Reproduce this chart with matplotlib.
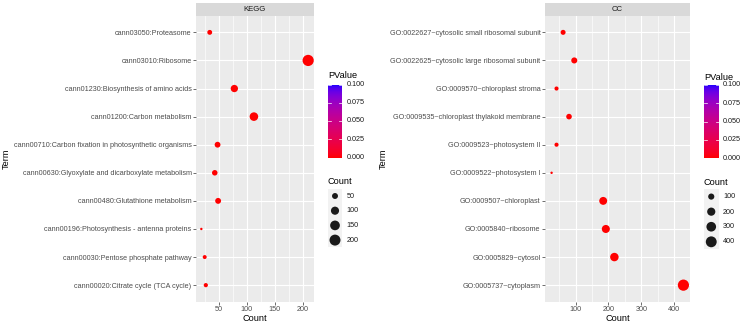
import numpy as np
import matplotlib
matplotlib.use("Agg")
import matplotlib.pyplot as plt
from matplotlib.colors import ListedColormap

plt.rcParams['font.family'] = ['Liberation Sans', 'DejaVu Sans']

# ---------------- data ----------------
kegg_terms = [
    "cann03050:Proteasome",
    "cann03010:Ribosome",
    "cann01230:Biosynthesis of amino acids",
    "cann01200:Carbon metabolism",
    "cann00710:Carbon fixation in photosynthetic organisms",
    "cann00630:Glyoxylate and dicarboxylate metabolism",
    "cann00480:Glutathione metabolism",
    "cann00196:Photosynthesis - antenna proteins",
    "cann00030:Pentose phosphate pathway",
    "cann00020:Citrate cycle (TCA cycle)",
]
kegg_count = [34, 210, 78, 113, 48, 43, 49, 19, 25, 27]
kegg_pvalue = [0.0001, 0.0, 0.0, 0.0, 0.0, 0.0001, 0.0, 0.0002, 0.0002, 0.0001]
kegg_xticks = [50, 100, 150, 200]
kegg_size_breaks = [50, 100, 150, 200]

cc_terms = [
    "GO:0022627~cytosolic small ribosomal subunit",
    "GO:0022625~cytosolic large ribosomal subunit",
    "GO:0009570~chloroplast stroma",
    "GO:0009535~chloroplast thylakoid membrane",
    "GO:0009523~photosystem II",
    "GO:0009522~photosystem I",
    "GO:0009507~chloroplast",
    "GO:0005840~ribosome",
    "GO:0005829~cytosol",
    "GO:0005737~cytoplasm",
]
cc_count = [62, 96, 42, 80, 42, 27, 184, 192, 218, 428]
cc_pvalue = [0.0, 0.0, 0.0001, 0.0, 0.0001, 0.0002, 0.0, 0.0, 0.0, 0.0]
cc_xticks = [100, 200, 300, 400]
cc_size_breaks = [100, 200, 300, 400]

pv_breaks = [0.000, 0.025, 0.050, 0.075, 0.100]
pv_limits = (0.0, 0.1)

# ---------------- helpers ----------------
W, H = 742, 325
DPI = 100
fig = plt.figure(figsize=(W / DPI, H / DPI), dpi=DPI)


def box(x0, y0, x1, y1):
    """pixel box (top-left origin) -> figure fraction rect"""
    return [x0 / W, 1 - y1 / H, (x1 - x0) / W, (y1 - y0) / H]


def srgb_to_lab(rgb):
    rgb = np.asarray(rgb, float)
    lin = np.where(rgb <= 0.04045, rgb / 12.92, ((rgb + 0.055) / 1.055) ** 2.4)
    M = np.array([[0.4124, 0.3576, 0.1805],
                  [0.2126, 0.7152, 0.0722],
                  [0.0193, 0.1192, 0.9505]])
    xyz = lin @ M.T
    xyz = xyz / np.array([0.95047, 1.0, 1.08883])
    f = np.where(xyz > 0.008856, np.cbrt(xyz), 7.787 * xyz + 16 / 116)
    L = 116 * f[..., 1] - 16
    a = 500 * (f[..., 0] - f[..., 1])
    b = 200 * (f[..., 1] - f[..., 2])
    return np.stack([L, a, b], -1)


def lab_to_srgb(lab):
    lab = np.asarray(lab, float)
    fy = (lab[..., 0] + 16) / 116
    fx = fy + lab[..., 1] / 500
    fz = fy - lab[..., 2] / 200
    f = np.stack([fx, fy, fz], -1)
    xyz = np.where(f ** 3 > 0.008856, f ** 3, (f - 16 / 116) / 7.787)
    xyz = xyz * np.array([0.95047, 1.0, 1.08883])
    Minv = np.array([[3.2406, -1.5372, -0.4986],
                     [-0.9689, 1.8758, 0.0415],
                     [0.0557, -0.2040, 1.0570]])
    lin = xyz @ Minv.T
    lin = np.clip(lin, 0, 1)
    rgb = np.where(lin <= 0.0031308, 12.92 * lin, 1.055 * lin ** (1 / 2.4) - 0.055)
    return np.clip(rgb, 0, 1)


lab_lo = srgb_to_lab([1.0, 0.0, 0.0])
lab_hi = srgb_to_lab([0.0, 0.0, 1.0])
tt = np.linspace(0, 1, 256)[:, None]
cmap = ListedColormap(lab_to_srgb(lab_lo * (1 - tt) + lab_hi * tt))

GRID_BG = '#EBEBEB'
STRIP_BG = '#D9D9D9'
TXT_AX = '#4D4D4D'
FS_TICK = 5.2
FS_TITLE = 6.6
FS_STRIP = 5.6


def size_of(v, lo, hi):
    t = (np.asarray(v, float) - lo) / (hi - lo)
    t = np.clip(t, 0, 1)
    d_px = 2.4 + 8.8 * np.sqrt(t)
    return (d_px * 72 / DPI) ** 2


def panel(px, strip_label, terms, counts, pvals, xticks, size_breaks,
          term_x, leg):
    x0, y0, x1, y1 = px
    ax = fig.add_axes(box(x0, y0, x1, y1))
    ax.set_facecolor(GRID_BG)
    n = len(terms)
    ypos = np.arange(n)
    lo, hi = min(counts), max(counts)
    pad = 0.05 * (hi - lo)
    ax.set_xlim(lo - pad, hi + pad)
    ax.set_ylim(n - 1 + 0.6, -0.6)
    # grid
    step = xticks[1] - xticks[0]
    minor = [t - step / 2 for t in xticks] + [xticks[-1] + step / 2]
    for m in minor:
        ax.axvline(m, color='white', lw=0.45, zorder=0)
    for t in xticks:
        ax.axvline(t, color='white', lw=0.85, zorder=0)
    for yy in ypos:
        ax.axhline(yy, color='white', lw=0.85, zorder=0)
    ax.scatter(counts, ypos, s=size_of(counts, lo, hi),
               c=pvals, cmap=cmap, vmin=pv_limits[0], vmax=pv_limits[1],
               edgecolors='none', zorder=3)
    ax.set_xticks(xticks)
    ax.set_xticklabels([str(t) for t in xticks])
    ax.set_yticks(ypos)
    ax.set_yticklabels(terms)
    ax.tick_params(axis='both', labelsize=FS_TICK, colors='#333333',
                   labelcolor=TXT_AX, length=2, width=0.5, pad=1.2)
    for s in ax.spines.values():
        s.set_visible(False)
    ax.set_xlabel('Count', fontsize=FS_TITLE, labelpad=0.5)
    fig.text(term_x / W, 1 - ((y0 + y1) / 2) / H, 'Term', rotation=90,
             fontsize=FS_TITLE, ha='center', va='center')
    # strip
    sax = fig.add_axes(box(x0, y0 - 12.5, x1, y0))
    sax.set_facecolor(STRIP_BG)
    sax.set_xticks([]); sax.set_yticks([])
    for s in sax.spines.values():
        s.set_visible(False)
    sax.text(0.5, 0.45, strip_label, transform=sax.transAxes, ha='center',
             va='center', fontsize=FS_STRIP, color='#1A1A1A')

    # --- colour legend ---
    lx0, lx1 = leg['cb_x']
    cy0, cy1 = leg['cb_y']
    fig.text(lx0 / W, 1 - leg['pv_title_y'] / H, 'PValue', fontsize=FS_TITLE,
             ha='left', va='center')
    cax = fig.add_axes(box(lx0, cy0, lx1, cy1))
    grad = np.linspace(pv_limits[0], pv_limits[1], 200)[:, None]
    cax.imshow(grad, aspect='auto', cmap=cmap, origin='lower',
               extent=[0, 1, pv_limits[0], pv_limits[1]],
               vmin=pv_limits[0], vmax=pv_limits[1])
    cax.set_xlim(0, 1)
    cax.set_ylim(*pv_limits)
    cax.set_xticks([]); cax.set_yticks([])
    for s in cax.spines.values():
        s.set_visible(False)
    for b in pv_breaks:
        cax.plot([0, 0.2], [b, b], color='white', lw=0.5)
        cax.plot([0.8, 1], [b, b], color='white', lw=0.5)
        yy = cy1 - (b - pv_limits[0]) / (pv_limits[1] - pv_limits[0]) * (cy1 - cy0)
        fig.text((lx1 + 4.5) / W, 1 - yy / H, f'{b:.3f}', fontsize=FS_TICK,
                 ha='left', va='center', color='#1A1A1A')

    # --- size legend ---
    fig.text(lx0 / W, 1 - leg['cnt_title_y'] / H, 'Count', fontsize=FS_TITLE,
             ha='left', va='center')
    ky = leg['key_y']
    kstep = ky[1] - ky[0]
    kax = fig.add_axes(box(lx0, ky[0] - kstep / 2, lx1, ky[-1] + kstep / 2))
    kax.set_facecolor('#F2F2F2')
    kax.set_xlim(0, 1)
    kax.set_ylim(len(size_breaks) - 0.5, -0.5)
    kax.set_xticks([]); kax.set_yticks([])
    for s in kax.spines.values():
        s.set_visible(False)
    kax.scatter([0.5] * len(size_breaks), np.arange(len(size_breaks)),
                s=size_of(size_breaks, lo, hi), color='#1A1A1A',
                edgecolors='none')
    for b, yy in zip(size_breaks, ky):
        fig.text((lx1 + 4.5) / W, 1 - yy / H, str(b), fontsize=FS_TICK,
                 ha='left', va='center', color='#1A1A1A')
    return ax


panel((196, 15.5, 313.5, 302), 'KEGG', kegg_terms, kegg_count, kegg_pvalue,
      kegg_xticks, kegg_size_breaks, term_x=6,
      leg=dict(cb_x=(328, 342), cb_y=(84.5, 157.5), pv_title_y=76,
               cnt_title_y=181, key_y=[196, 210.7, 225.4, 240.1]))

panel((545, 15.5, 690, 302), 'CC', cc_terms, cc_count, cc_pvalue,
      cc_xticks, cc_size_breaks, term_x=383.5,
      leg=dict(cb_x=(704, 718.5), cb_y=(85, 158.3), pv_title_y=77.7,
               cnt_title_y=182, key_y=[196.7, 212, 227, 241.7]))

fig.savefig('out.png', dpi=DPI)
